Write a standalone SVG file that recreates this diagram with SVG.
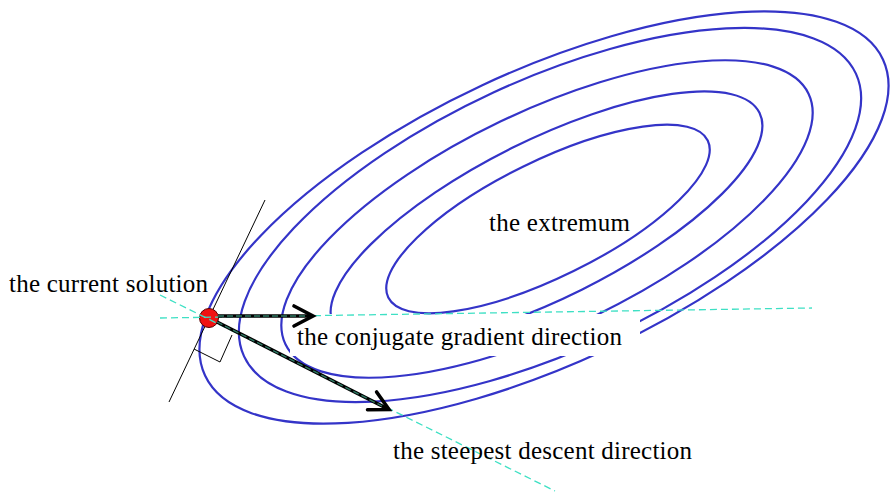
<svg xmlns="http://www.w3.org/2000/svg" width="890" height="493" viewBox="0 0 890 493">
  <style>
    .contour { fill: none; stroke: #3434c8; stroke-width: 2.2; }
    .guide { fill: none; stroke: #3ee0c4; stroke-width: 1.3; stroke-dasharray: 7 4; }
    .thin { fill: none; stroke: #000; stroke-width: 1; }
    .shaft { fill: none; stroke: #000; stroke-width: 3.6; }
    .shaft-dash { fill: none; stroke: #2f7a64; stroke-width: 1.4; stroke-dasharray: 6 3; }
    .label { font-family: "Liberation Serif", "Times New Roman", serif; font-size: 25px; fill: #000; }
  </style>
  <defs>
    <marker id="vhead" markerUnits="userSpaceOnUse" viewBox="-24 -14 28 28" markerWidth="28" markerHeight="28" refX="0" refY="0" orient="auto">
      <path d="M-19,-10 L0,0 L-19,10" fill="none" stroke="#000" stroke-width="3.6" stroke-linecap="round" stroke-linejoin="miter"/>
    </marker>
    <clipPath id="labelGap">
      <path clip-rule="evenodd" d="M0,0H890V493H0Z M290,314H640V356H290Z"/>
    </clipPath>
  </defs>
  <rect width="890" height="493" fill="#fff"/>

  <g id="contours">
    <g id="contour-1" clip-path="url(#labelGap)">
      <ellipse class="contour" cx="544" cy="217.5" rx="374" ry="146" transform="rotate(-25 544 217.5)"/>
    </g>
    <g id="contour-2" clip-path="url(#labelGap)">
      <ellipse class="contour" cx="550" cy="215" rx="337" ry="135" transform="rotate(-24.8 550 215)"/>
    </g>
    <g id="contour-3" clip-path="url(#labelGap)">
      <ellipse class="contour" cx="547" cy="219" rx="290" ry="108" transform="rotate(-25.6 547 219)"/>
    </g>
    <g id="contour-4" clip-path="url(#labelGap)">
      <ellipse class="contour" cx="546.5" cy="219" rx="238" ry="79" transform="rotate(-26.5 546.5 219)"/>
    </g>
    <g id="contour-5">
      <ellipse class="contour" cx="548" cy="219" rx="178" ry="58" transform="rotate(-26.2 548 219)"/>
    </g>
  </g>

  <g id="tangent">
    <line class="thin" x1="265" y1="200" x2="169" y2="402"/>
  </g>

  <g id="current-solution">
    <circle cx="209" cy="318" r="9.5" fill="#f01212" stroke="#5a0000" stroke-width="1"/>
    <text class="label" x="9" y="292" textLength="199">the current solution</text>
  </g>

  <g id="connectors">
    <line class="guide" x1="160" y1="318" x2="812" y2="308"/>
    <line class="guide" x1="160" y1="295" x2="555" y2="491"/>
    <line class="shaft" x1="218" y1="316" x2="313" y2="316" marker-end="url(#vhead)"/>
    <line class="shaft-dash" x1="218" y1="316" x2="306" y2="316"/>
    <line class="shaft" x1="217" y1="322" x2="389" y2="409.5" marker-end="url(#vhead)"/>
    <line class="shaft-dash" x1="217" y1="322" x2="382" y2="406"/>
    <polyline class="thin" points="194,349 220,362 232,335"/>
  </g>

  <g id="extremum">
    <text class="label" x="489" y="230.5" textLength="141">the extremum</text>
  </g>
  <g id="conjugate-label">
    <text class="label" x="297" y="345" textLength="325">the conjugate gradient direction</text>
  </g>
  <g id="steepest-label">
    <text class="label" x="393" y="459" textLength="299">the steepest descent direction</text>
  </g>
</svg>
